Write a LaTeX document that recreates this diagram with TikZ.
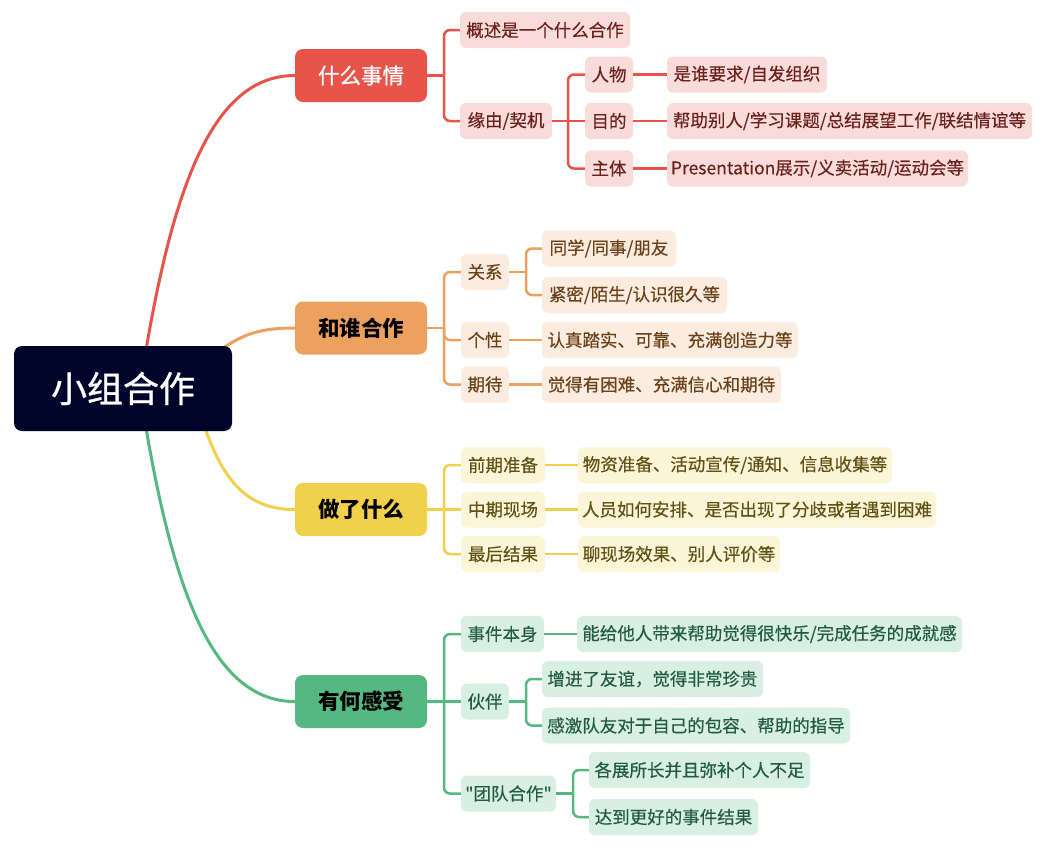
\documentclass[tikz,border=0pt]{standalone}
\usepackage{fontspec}
\newfontfamily\cjk{Noto Sans CJK SC}
\newfontfamily\cjkm[FakeBold=0.35]{Noto Sans CJK SC}
\newfontfamily\cjkh[FakeBold=0.9]{Noto Sans CJK SC}
\definecolor{rootc}{HTML}{00032A}
\definecolor{rmain}{HTML}{E8534A}
\definecolor{rpale}{HTML}{F9DCD9}
\definecolor{rtext}{HTML}{6A211D}
\definecolor{omain}{HTML}{ECA25E}
\definecolor{opale}{HTML}{FBECDF}
\definecolor{otext}{HTML}{6A4118}
\definecolor{ymain}{HTML}{F1D04D}
\definecolor{ypale}{HTML}{FDF5D8}
\definecolor{ytext}{HTML}{5F5216}
\definecolor{gmain}{HTML}{56B881}
\definecolor{gpale}{HTML}{D7F0E3}
\definecolor{gtext}{HTML}{225B3E}
\tikzset{
  leafbox/.style={rounded corners=6pt, minimum height=36pt, inner xsep=0pt, inner ysep=0pt,
    font=\cjkm\fontsize{17.5}{17.5}\selectfont},
  rleaf/.style={leafbox, fill=rpale, text=rtext},
  oleaf/.style={leafbox, fill=opale, text=otext},
  yleaf/.style={leafbox, fill=ypale, text=ytext},
  gleaf/.style={leafbox, fill=gpale, text=gtext},
  topicbox/.style={rounded corners=8pt, minimum width=132pt, minimum height=53pt, inner sep=0pt,
    font=\cjk\fontsize{21.5}{21.5}\selectfont},
  conn/.style={line width=2.5pt, rounded corners=6pt},
  rl/.style={conn, draw=rmain},
  ol/.style={conn, draw=omain},
  yl/.style={conn, draw=ymain},
  gl/.style={conn, draw=gmain},
  curve/.style={line width=3pt, line cap=round},
}
\begin{document}
\begin{tikzpicture}[x=1pt,y=-1pt]
\useasboundingbox (0,0) rectangle (1057,852);
\fill[white] (0,0) rectangle (1057,852);

% anchor points on root
\coordinate (cr) at (146,350);
\coordinate (co) at (220,350);
\coordinate (cy) at (205,428);
\coordinate (cg) at (146,428);

% main topics
\node[topicbox, fill=rmain, text=white] (rm) at (361,75.5) {\cjkh 什么事情};
\node[topicbox, fill=omain, text=black] (om) at (361,328) {\bfseries 和谁合作};
\node[topicbox, fill=ymain, text=black] (ym) at (361,509.5) {\bfseries 做了什么};
\node[topicbox, fill=gmain, text=black] (gm) at (361,701.5) {\bfseries 有何感受};

% main curves
\draw[curve, rmain] (cr) .. controls (175,180) and (215,75.5) .. (rm.west);
\draw[curve, omain] (co) .. controls (245,333) and (262,328) .. (om.west);
\draw[curve, ymain] (cy) .. controls (225,485) and (250,509.5) .. (ym.west);
\draw[curve, gmain] (cg) .. controls (175,597) and (215,701.5) .. (gm.west);

% root
\node[rounded corners=8pt, fill=rootc, text=white, minimum width=218pt, minimum height=85pt,
  font=\cjkh\fontsize{36}{36}\selectfont] (root) at (123,388.5) {小组合作};

% ---------- red branch ----------
\node[rleaf, minimum width=170pt] (r1) at (545,30) {概述是一个什么合作};
\node[rleaf, minimum width=92pt] (r2) at (506,121) {缘由/契机};
\node[rleaf, minimum width=48pt] (r21) at (609,74.5) {人物};
\node[rleaf, minimum width=48pt] (r22) at (609,121) {目的};
\node[rleaf, minimum width=48pt] (r23) at (609,168.5) {主体};
\node[rleaf, minimum width=160pt] (r211) at (747,74.5) {是谁要求/自发组织};
\node[rleaf, minimum width=365pt] (r221) at (849.5,121) {帮助别人/学习课题/总结展望工作/联结情谊等};
\node[rleaf, minimum width=301pt] (r231) at (817.5,168.5) {Presentation展示/义卖活动/运动会等};
\coordinate (rj) at (444,75.5);
\coordinate (rj2) at (568,121);
\draw[rl] (rm.east) -- (rj);
\draw[rl] (rj) |- (r1.west);
\draw[rl] (rj) |- (r2.west);
\draw[rl] (r2.east) -- (rj2);
\draw[rl] (rj2) |- (r21.west);
\draw[rl] (rj2) -- (r22.west);
\draw[rl] (rj2) |- (r23.west);
\draw[rl] (r21.east) -- (r211.west);
\draw[rl] (r22.east) -- (r221.west);
\draw[rl] (r23.east) -- (r231.west);

% ---------- orange branch ----------
\node[oleaf, minimum width=48pt] (o1) at (485,272) {关系};
\node[oleaf, minimum width=48pt] (o2) at (485,340) {个性};
\node[oleaf, minimum width=48pt] (o3) at (485,384.5) {期待};
\node[oleaf, minimum width=134pt] (o11) at (609,248.5) {同学/同事/朋友};
\node[oleaf, minimum width=185pt] (o12) at (634.5,295) {紧密/陌生/认识很久等};
\node[oleaf, minimum width=256pt] (o21) at (670,340) {认真踏实、可靠、充满创造力等};
\node[oleaf, minimum width=239pt] (o31) at (661.5,384.5) {觉得有困难、充满信心和期待};
\coordinate (oj) at (444,328);
\coordinate (oj2) at (526,272);
\draw[ol] (om.east) -- (oj);
\draw[ol] (oj) |- (o1.west);
\draw[ol] (oj) |- (o2.west);
\draw[ol] (oj) |- (o3.west);
\draw[ol] (o1.east) -- (oj2);
\draw[ol] (oj2) |- (o11.west);
\draw[ol] (oj2) |- (o12.west);
\draw[ol] (o2.east) -- (o21.west);
\draw[ol] (o3.east) -- (o31.west);

% ---------- yellow branch ----------
\node[yleaf, minimum width=84pt] (y1) at (503,465) {前期准备};
\node[yleaf, minimum width=84pt] (y2) at (503,509.5) {中期现场};
\node[yleaf, minimum width=84pt] (y3) at (503,554) {最后结果};
\node[yleaf, minimum width=314pt] (y11) at (735,465) {物资准备、活动宣传/通知、信息收集等};
\node[yleaf, minimum width=358pt] (y21) at (757,509.5) {人员如何安排、是否出现了分歧或者遇到困难};
\node[yleaf, minimum width=202pt] (y31) at (679,554) {聊现场效果、别人评价等};
\coordinate (yj) at (444,509.5);
\draw[yl] (ym.east) -- (yj);
\draw[yl] (yj) |- (y1.west);
\draw[yl] (yj) -- (y2.west);
\draw[yl] (yj) |- (y3.west);
\draw[yl] (y1.east) -- (y11.west);
\draw[yl] (y2.east) -- (y21.west);
\draw[yl] (y3.east) -- (y31.west);

% ---------- green branch ----------
\node[gleaf, minimum width=83pt] (g1) at (502.5,634) {事件本身};
\node[gleaf, minimum width=48pt] (g2) at (485,701.5) {伙伴};
\node[gleaf, minimum width=95pt] (g3) at (508.5,793.5) {"团队合作"};
\node[gleaf, minimum width=385pt] (g11) at (769.5,634) {能给他人带来帮助觉得很快乐/完成任务的成就感};
\node[gleaf, minimum width=221pt] (g21) at (652.5,679) {增进了友谊，觉得非常珍贵};
\node[gleaf, minimum width=308pt] (g22) at (696,725.5) {感激队友对于自己的包容、帮助的指导};
\node[gleaf, minimum width=221pt] (g31) at (699.5,770) {各展所长并且弥补个人不足};
\node[gleaf, minimum width=169pt] (g32) at (673.5,817) {达到更好的事件结果};
\coordinate (gj) at (444,701.5);
\coordinate (gj2) at (526,701.5);
\coordinate (gj3) at (573,793.5);
\draw[gl] (gm.east) -- (gj);
\draw[gl] (gj) |- (g1.west);
\draw[gl] (gj) -- (g2.west);
\draw[gl] (gj) |- (g3.west);
\draw[gl] (g1.east) -- (g11.west);
\draw[gl] (g2.east) -- (gj2);
\draw[gl] (gj2) |- (g21.west);
\draw[gl] (gj2) |- (g22.west);
\draw[gl] (g3.east) -- (gj3);
\draw[gl] (gj3) |- (g31.west);
\draw[gl] (gj3) |- (g32.west);
\end{tikzpicture}
\end{document}
